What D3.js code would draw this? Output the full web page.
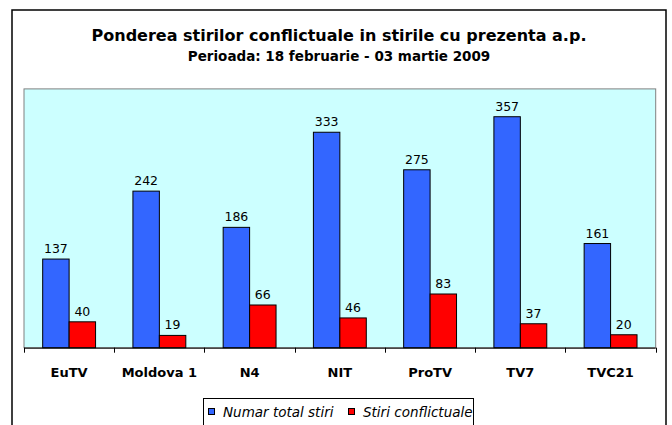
<!DOCTYPE html>
<html>
<head>
<meta charset="utf-8">
<script src="https://cdn.jsdelivr.net/npm/d3@7"></script>
<style>
  html, body { margin: 0; padding: 0; background: #fff; }
  svg { display: block; }
</style>
</head>
<body>
<svg id="chart"></svg>
<script>
// Data
const categories = ['EuTV', 'Moldova 1', 'N4', 'NIT', 'ProTV', 'TV7', 'TVC21'];
const totalNews = [137, 242, 186, 333, 275, 357, 161];
const conflictNews = [40, 19, 66, 46, 83, 37, 20];
const seriesNames = ['Numar total stiri', 'Stiri conflictuale'];

(function() {
    'use strict';

    const width = 672, height = 425;
    const font = 'Tahoma, "DejaVu Sans", sans-serif';
    const colors = ['#3366FF', '#FF0000'];

    const plot = { left: 24, right: 655.7, top: 88.9, bottom: 347.7 };

    const svg = d3.select('#chart')
        .attr('width', width)
        .attr('height', height)
        .style('font-family', font);

    svg.append('rect')
        .attr('width', width).attr('height', height)
        .attr('fill', '#fff');

    // Outer chart frame (runs off the bottom of the picture)
    svg.append('rect')
        .attr('x', 12).attr('y', 10)
        .attr('width', 654).attr('height', 440)
        .attr('fill', '#fff')
        .attr('stroke', '#000')
        .attr('stroke-width', 1.5);

    // Titles
    svg.append('text')
        .attr('x', 339).attr('y', 41)
        .attr('text-anchor', 'middle')
        .attr('font-size', '16px')
        .attr('font-weight', 'bold')
        .attr('fill', '#000')
        .text('Ponderea stirilor conflictuale in stirile cu prezenta a.p.');

    svg.append('text')
        .attr('x', 339).attr('y', 61)
        .attr('text-anchor', 'middle')
        .attr('font-size', '13.5px')
        .attr('font-weight', 'bold')
        .attr('fill', '#000')
        .text('Perioada: 18 februarie - 03 martie 2009');

    // Plot area
    svg.append('rect')
        .attr('x', plot.left).attr('y', plot.top)
        .attr('width', plot.right - plot.left)
        .attr('height', plot.bottom - plot.top)
        .attr('fill', '#CCFFFF')
        .attr('stroke', '#808080')
        .attr('stroke-width', 1);

    const x0 = d3.scaleBand()
        .domain(categories)
        .range([plot.left, plot.right])
        .padding(0);

    const bw = x0.bandwidth();
    const barW = bw * 0.293;
    const x1 = d3.scaleBand()
        .domain([0, 1])
        .range([(bw - 2 * barW) / 2, (bw + 2 * barW) / 2])
        .padding(0);

    const y = d3.scaleLinear()
        .domain([0, 400])
        .range([plot.bottom, plot.top]);

    const rows = categories.map((c, i) => ({
        cat: c,
        vals: [totalNews[i], conflictNews[i]]
    }));

    const groups = svg.append('g').attr('class', 'bars')
        .selectAll('g')
        .data(rows)
        .enter()
        .append('g')
        .attr('transform', d => `translate(${x0(d.cat)},0)`);

    groups.selectAll('rect')
        .data(d => d.vals.map((v, s) => ({ v, s })))
        .enter()
        .append('rect')
        .attr('x', d => x1(d.s))
        .attr('y', d => y(d.v))
        .attr('width', x1.bandwidth())
        .attr('height', d => y(0) - y(d.v))
        .attr('fill', d => colors[d.s])
        .attr('stroke', '#000')
        .attr('stroke-width', 1);

    groups.selectAll('text.val')
        .data(d => d.vals.map((v, s) => ({ v, s })))
        .enter()
        .append('text')
        .attr('class', 'val')
        .attr('x', d => x1(d.s) + x1.bandwidth() / 2)
        .attr('y', d => y(d.v) - 6)
        .attr('text-anchor', 'middle')
        .attr('font-size', '12.5px')
        .attr('fill', '#000')
        .text(d => d.v);

    // Category axis
    const xAxis = d3.axisBottom(x0).tickSize(0).tickPadding(0);
    const axisG = svg.append('g')
        .attr('transform', `translate(0,${plot.bottom})`)
        .call(xAxis);
    axisG.select('.domain')
        .attr('stroke', '#000')
        .attr('d', `M${plot.left},0.5H${plot.right}`);
    axisG.selectAll('.tick text')
        .attr('y', 29)
        .attr('dy', 0)
        .attr('font-family', font)
        .attr('font-size', '13px')
        .attr('font-weight', 'bold')
        .attr('fill', '#000');

    // Tick marks at category boundaries
    const bounds = categories.map(c => x0(c)).concat([plot.right]);
    axisG.selectAll('line.bound')
        .data(bounds)
        .enter()
        .append('line')
        .attr('class', 'bound')
        .attr('x1', d => Math.round(d) + 0.5)
        .attr('x2', d => Math.round(d) + 0.5)
        .attr('y1', 0)
        .attr('y2', 5)
        .attr('stroke', '#000')
        .attr('stroke-width', 1);

    // Legend
    const legend = svg.append('g').attr('class', 'legend');
    legend.append('rect')
        .attr('x', 203.5).attr('y', 398.5)
        .attr('width', 270).attr('height', 40)
        .attr('fill', '#fff')
        .attr('stroke', '#000')
        .attr('stroke-width', 1);

    const itemX = [208, 348];
    seriesNames.forEach((name, i) => {
        legend.append('rect')
            .attr('x', itemX[i] + 0.5).attr('y', 408.5)
            .attr('width', 6).attr('height', 6)
            .attr('fill', colors[i])
            .attr('stroke', '#000')
            .attr('stroke-width', 1);
        legend.append('text')
            .attr('x', itemX[i] + 15)
            .attr('y', 416.5)
            .attr('font-size', '13.5px')
            .attr('font-style', 'italic')
            .attr('fill', '#000')
            .text(name);
    });
})();
</script>
</body>
</html>
